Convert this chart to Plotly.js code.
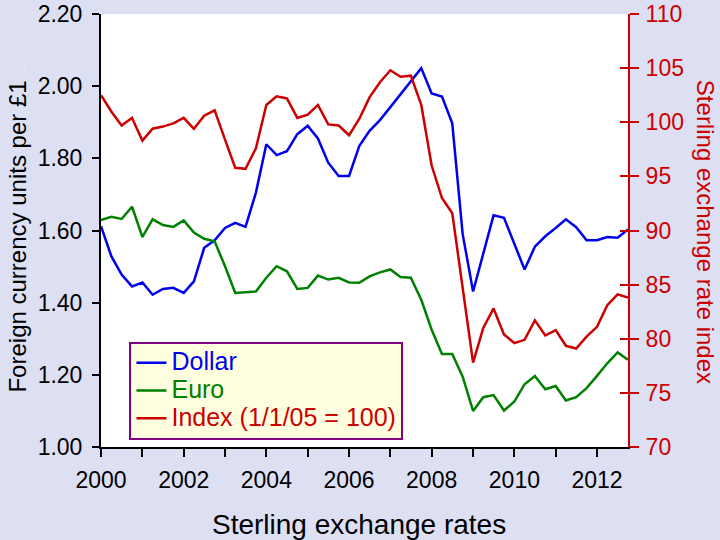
<!DOCTYPE html>
<html>
<head>
<meta charset="utf-8">
<script src="https://cdn.plot.ly/plotly-3.0.1.min.js"></script>
<style>
  html, body { margin: 0; padding: 0; background: #dddff3; }
  #chart { width: 720px; height: 540px; }
</style>
</head>
<body>
<div id="chart"></div>
<script>
// quarterly readings, Q1 2000 .. Q4 2012
const quarters = [
  "2000-01", "2000-04", "2000-07", "2000-10", "2001-01", "2001-04", "2001-07", "2001-10",
  "2002-01", "2002-04", "2002-07", "2002-10", "2003-01", "2003-04", "2003-07", "2003-10",
  "2004-01", "2004-04", "2004-07", "2004-10", "2005-01", "2005-04", "2005-07", "2005-10",
  "2006-01", "2006-04", "2006-07", "2006-10", "2007-01", "2007-04", "2007-07", "2007-10",
  "2008-01", "2008-04", "2008-07", "2008-10", "2009-01", "2009-04", "2009-07", "2009-10",
  "2010-01", "2010-04", "2010-07", "2010-10", "2011-01", "2011-04", "2011-07", "2011-10",
  "2012-01", "2012-04", "2012-07", "2012-10"
];

const dollar = [
  1.612, 1.529, 1.478, 1.445, 1.456, 1.422, 1.438, 1.441, 1.427, 1.459,
  1.552, 1.573, 1.607, 1.621, 1.610, 1.705, 1.839, 1.809, 1.820, 1.867,
  1.890, 1.855, 1.788, 1.751, 1.751, 1.834, 1.876, 1.906, 1.942, 1.978,
  2.015, 2.050, 1.980, 1.971, 1.897, 1.590, 1.431, 1.538, 1.642, 1.635,
  1.561, 1.492, 1.555, 1.584, 1.607, 1.631, 1.609, 1.573, 1.573, 1.582,
  1.580, 1.603
];

const euro = [
  1.629, 1.638, 1.632, 1.666, 1.582, 1.631, 1.615, 1.610, 1.628, 1.594,
  1.577, 1.570, 1.501, 1.427, 1.429, 1.431, 1.469, 1.501, 1.487, 1.438,
  1.441, 1.475, 1.464, 1.469, 1.456, 1.455, 1.473, 1.484, 1.492, 1.471,
  1.469, 1.408, 1.325, 1.258, 1.258, 1.195, 1.100, 1.138, 1.144, 1.101,
  1.126, 1.174, 1.197, 1.160, 1.169, 1.129, 1.138, 1.163, 1.197, 1.232,
  1.262, 1.242
];

const sterlingIndex = [
  102.5, 101.0, 99.7, 100.4, 98.3, 99.4, 99.6, 99.9, 100.4, 99.4,
  100.6, 101.1, 98.4, 95.8, 95.7, 97.6, 101.6, 102.4, 102.2, 100.4,
  100.7, 101.6, 99.8, 99.7, 98.8, 100.3, 102.3, 103.7, 104.8, 104.2,
  104.3, 101.6, 96.0, 93.0, 91.6, 84.6, 77.8, 81.0, 82.8, 80.4,
  79.6, 79.9, 81.7, 80.3, 80.8, 79.35, 79.1, 80.2, 81.1, 83.1,
  84.1, 83.8
];

const BLUE = "#0000ee", GREEN = "#008000", RED = "#cc0000";
const FONT = "Liberation Sans, Arial, sans-serif";

// legend rows are spaced from the legend font size; the names carry the bigger text
const legendName = (txt, col) => `<span style="color:${col};font-size:25px">${txt}</span>`;

const traces = [
  {x: quarters, y: dollar, name: legendName("Dollar", BLUE),
   type: "scatter", mode: "lines", line: {color: BLUE, width: 2.5}},
  {x: quarters, y: euro, name: legendName("Euro", GREEN),
   type: "scatter", mode: "lines", line: {color: GREEN, width: 2.5}},
  {x: quarters, y: sterlingIndex, name: legendName("Index (1/1/05 = 100)", RED),
   type: "scatter", mode: "lines", line: {color: RED, width: 2.5}, yaxis: "y2"},
  // invisible point so the inner tick set of the right axis gets drawn
  {x: [quarters[0]], y: [90], yaxis: "y3", showlegend: false,
   mode: "markers", marker: {opacity: 0}, hoverinfo: "skip"}
];

const layout = {
  width: 720, height: 540,
  margin: {l: 100.5, r: 92, t: 14, b: 93},
  paper_bgcolor: "#dddff3",
  plot_bgcolor: "#ffffff",
  font: {family: FONT, size: 23, color: "#000"},
  showlegend: true,
  legend: {
    x: 0.054, y: 0.2425, xanchor: "left", yanchor: "top",
    bgcolor: "#ffffe0", bordercolor: "#800080", borderwidth: 2,
    font: {family: FONT, size: 19}, tracegroupgap: 0
  },
  xaxis: {
    type: "date",
    range: ["2000-01-01", "2012-10-01"],
    tick0: "2000-01-01", dtick: "M24", tickformat: "%Y",
    ticks: "outside", ticklen: 8, tickwidth: 2, tickcolor: "#000",
    minor: {dtick: "M12", ticks: "outside", ticklen: 8, tickwidth: 2, tickcolor: "#000"},
    showline: true, linecolor: "#000", linewidth: 2,
    showgrid: false, zeroline: false,
    ticklabelstandoff: 3,
    tickfont: {size: 23}
  },
  yaxis: {
    range: [1.0, 2.2], dtick: 0.2, tickformat: ".2f",
    ticks: "outside", ticklen: 7, tickwidth: 2, tickcolor: "#000",
    showline: true, linecolor: "#000", linewidth: 2,
    showgrid: false, zeroline: false,
    ticklabelstandoff: 5,
    tickfont: {size: 23}
  },
  yaxis2: {
    overlaying: "y", side: "right",
    range: [70, 110], dtick: 5,
    ticks: "outside", ticklen: 9, tickwidth: 2, tickcolor: RED,
    showline: true, linecolor: RED, linewidth: 2,
    showgrid: false, zeroline: false,
    ticklabelstandoff: 2,
    tickfont: {size: 23, color: RED}
  },
  yaxis3: {
    overlaying: "y", side: "right",
    range: [70, 110], dtick: 5,
    ticks: "inside", ticklen: 8, tickwidth: 2, tickcolor: RED,
    showticklabels: false, showline: false,
    showgrid: false, zeroline: false
  },
  annotations: [
    {text: 'Foreign currency units per £1 <span style="color:#f2f2fa;font-size:12px">...</span>',
     xref: "paper", yref: "paper", x: -0.159, y: 0.505, xanchor: "center", yanchor: "middle",
     textangle: -90, showarrow: false, font: {size: 24, color: "#000"}},
    {text: "Sterling exchange rate index",
     xref: "paper", yref: "paper", x: 1.146, y: 0.497, xanchor: "center", yanchor: "middle",
     textangle: 90, showarrow: false, font: {size: 24, color: RED}},
    {text: "Sterling exchange rates",
     xref: "paper", yref: "paper", x: 0.49, y: -0.178, xanchor: "center", yanchor: "middle",
     showarrow: false, font: {size: 28, color: "#000"}}
  ]
};

Plotly.newPlot("chart", traces, layout, {displayModeBar: false, staticPlot: true});
</script>
</body>
</html>
